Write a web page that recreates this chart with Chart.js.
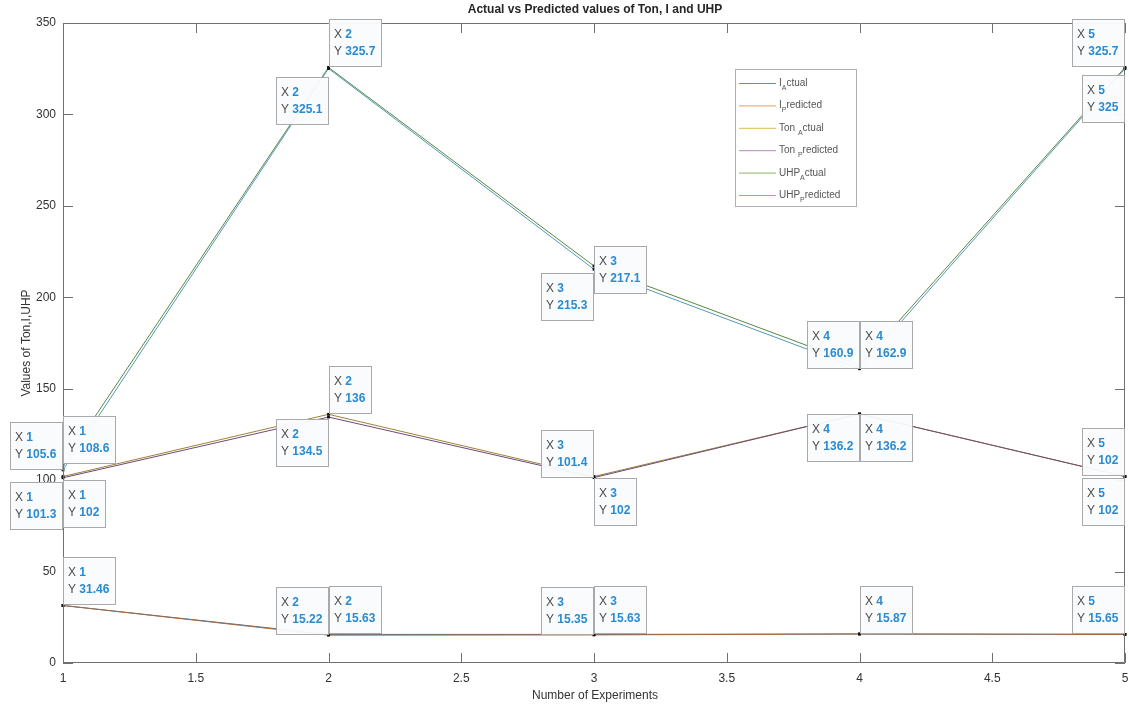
<!DOCTYPE html>
<html>
<head>
<meta charset="utf-8">
<script src="https://cdn.jsdelivr.net/npm/chart.js@4/dist/chart.umd.min.js"></script>
<style>
  html, body { margin: 0; padding: 0; background: #ffffff; }
  #wrap { width: 1129px; height: 709px; position: relative; overflow: hidden; }
</style>
</head>
<body>
<div id="wrap"><canvas id="c" width="1129" height="709"></canvas></div>
<script>
// Experiment numbers
const experiments = [1, 2, 3, 4, 5];

// Current I
const iActual    = [31.46, 15.63, 15.63, 15.87, 15.65];
const iPredicted = [31.46, 15.22, 15.35, 15.87, 15.65];

// Pulse on-time Ton
const tonActual    = [102, 136, 102, 136.2, 102];
const tonPredicted = [101.3, 134.5, 101.4, 136.2, 102];

// UHP
const uhpActual    = [108.6, 325.7, 217.1, 162.9, 325.7];
const uhpPredicted = [105.6, 325.1, 215.3, 160.9, 325];

// Axis ticks
const xTicks = [1, 1.5, 2, 2.5, 3, 3.5, 4, 4.5, 5];
const yTicks = [0, 50, 100, 150, 200, 250, 300, 350];

const titleText = 'Actual vs Predicted values of Ton, I and UHP';
const xTitle = 'Number of Experiments';
const yTitle = 'Values of Ton,I,UHP';

const seriesDefs = [
  { key: 'iA', data: iActual,      color: '#41729a', legendColor: '#5b93bd', label: ['I', 'A', 'ctual'] },
  { key: 'iP', data: iPredicted,   color: '#a8683a', legendColor: '#d9a35e', label: ['I', 'P', 'redicted'] },
  { key: 'tA', data: tonActual,    color: '#9c8236', legendColor: '#dcb84f', label: ['Ton ', 'A', 'ctual'] },
  { key: 'tP', data: tonPredicted, color: '#6e4a72', legendColor: '#b08ab8', label: ['Ton ', 'P', 'redicted'] },
  { key: 'uA', data: uhpActual,    color: '#5a8640', legendColor: '#8fb462', label: ['UHP', 'A', 'ctual'] },
  { key: 'uP', data: uhpPredicted, color: '#4f9ab8', legendColor: '#6bb5d3', label: ['UHP', 'P', 'redicted'] }
];

// Data tip annotations: series, point index, placement of the box around the point, vertical nudge
const tips = [
  ['uP', 0, 'nw', 0], ['uA', 0, 'ne', 0],
  ['uP', 1, 'sw', 8], ['uA', 1, 'ne', 0],
  ['uA', 2, 'ne', 28], ['uP', 2, 'sw', 4],
  ['uP', 3, 'nw', 0], ['uA', 3, 'ne', 4],
  ['uA', 4, 'nw', 0], ['uP', 4, 'sw', 6],
  ['tP', 0, 'sw', 4], ['tA', 0, 'se', 4],
  ['tP', 1, 'sw', 2], ['tA', 1, 'ne', 0],
  ['tP', 2, 'nw', 0], ['tA', 2, 'se', 2],
  ['tP', 3, 'sw', 0], ['tA', 3, 'se', 0],
  ['tA', 4, 'nw', 0], ['tP', 4, 'sw', 2],
  ['iA', 0, 'ne', 0],
  ['iP', 1, 'nw', 0], ['iA', 1, 'ne', 0],
  ['iP', 2, 'nw', 0], ['iA', 2, 'ne', 0],
  ['iA', 3, 'ne', 0],
  ['iA', 4, 'nw', 0]
];

const FONT = '"Liberation Sans", Arial, sans-serif';
const NARROW = '"Liberation Sans Narrow", "Arial Narrow", "Liberation Sans", Arial, sans-serif';

const datasets = seriesDefs.map((s, k) => ({
  label: s.label.join(''),
  data: experiments.map((x, i) => ({ x: x, y: s.data[i] })),
  borderColor: s.color,
  backgroundColor: '#111111',
  borderWidth: 1,
  pointStyle: 'rect',
  pointRadius: 2,
  pointBorderWidth: 0,
  pointBackgroundColor: '#111111',
  tension: 0,
  clip: false,
  order: 6 - k
}));

const decor = {
  id: 'decor',
  afterDraw(chart) {
    const ctx = chart.ctx;
    const a = chart.chartArea;
    const xs = chart.scales.x, ys = chart.scales.y;
    ctx.save();

    // axes box and inward ticks
    ctx.strokeStyle = '#707070';
    ctx.lineWidth = 1;
    ctx.beginPath();
    ctx.moveTo(a.left + 0.5, a.top + 0.5);
    ctx.lineTo(a.right - 0.5, a.top + 0.5);
    ctx.lineTo(a.right - 0.5, a.bottom - 0.5);
    ctx.lineTo(a.left + 0.5, a.bottom - 0.5);
    ctx.closePath();
    ctx.stroke();
    const tl = 10;
    ctx.beginPath();
    xTicks.forEach(v => {
      const px = Math.round(xs.getPixelForValue(v)) + 0.5;
      ctx.moveTo(px, a.bottom); ctx.lineTo(px, a.bottom - tl);
      ctx.moveTo(px, a.top); ctx.lineTo(px, a.top + tl);
    });
    yTicks.forEach(v => {
      const py = Math.round(ys.getPixelForValue(v)) + 0.5;
      ctx.moveTo(a.left, py); ctx.lineTo(a.left + tl, py);
      ctx.moveTo(a.right, py); ctx.lineTo(a.right - tl, py);
    });
    ctx.stroke();

    // titles
    ctx.fillStyle = '#262626';
    ctx.font = 'bold 12px ' + NARROW;
    ctx.textAlign = 'center';
    ctx.textBaseline = 'middle';
    ctx.fillText(titleText, 595, 10);
    ctx.font = '12px ' + NARROW;
    ctx.fillStyle = '#333333';
    ctx.fillText(xTitle, 595, 696);
    ctx.save();
    ctx.translate(27, (a.top + a.bottom) / 2);
    ctx.rotate(-Math.PI / 2);
    ctx.fillText(yTitle, 0, 0);
    ctx.restore();

    // legend
    const lx = 735, ly = 69, lw = 121, lh = 137;
    ctx.fillStyle = '#ffffff';
    ctx.fillRect(lx, ly, lw, lh);
    ctx.strokeStyle = '#b0b0b0';
    ctx.strokeRect(lx + 0.5, ly + 0.5, lw, lh);
    seriesDefs.forEach((s, i) => {
      const y = ly + 14 + i * 22.4;
      ctx.strokeStyle = s.legendColor;
      ctx.beginPath();
      ctx.moveTo(lx + 4, y + 0.5); ctx.lineTo(lx + 41, y + 0.5);
      ctx.stroke();
      ctx.fillStyle = '#555555';
      ctx.textAlign = 'left';
      ctx.textBaseline = 'alphabetic';
      let tx = lx + 44;
      ctx.font = '10px ' + NARROW;
      ctx.fillText(s.label[0], tx, y + 3);
      tx += ctx.measureText(s.label[0]).width;
      ctx.font = '7px ' + NARROW;
      ctx.fillText(s.label[1], tx, y + 7);
      tx += ctx.measureText(s.label[1]).width;
      ctx.font = '10px ' + NARROW;
      ctx.fillText(s.label[2], tx, y + 3);
    });

    // data tips
    const byKey = {};
    seriesDefs.forEach(s => { byKey[s.key] = s; });
    tips.forEach(([key, idx, place, dy]) => {
      const s = byKey[key];
      const xv = experiments[idx], yv = s.data[idx];
      const px = xs.getPixelForValue(xv);
      const py = ys.getPixelForValue(yv);
      const xl = 'X ', yl = 'Y ';
      const xvText = String(xv), yvText = String(yv);
      ctx.font = '12px ' + FONT;
      const wx = ctx.measureText(xl).width;
      const wy = ctx.measureText(yl).width;
      ctx.font = 'bold 12px ' + FONT;
      const w1 = wx + ctx.measureText(xvText).width;
      const w2 = wy + ctx.measureText(yvText).width;
      const w = Math.round(Math.max(w1, w2) + 12);
      const h = 48;
      let bx, by;
      if (place === 'ne') { bx = px; by = py - h; }
      else if (place === 'nw') { bx = px - w; by = py - h; }
      else if (place === 'se') { bx = px; by = py; }
      else { bx = px - w; by = py; }
      by += dy;
      bx = Math.round(bx); by = Math.round(by);
      ctx.fillStyle = 'rgba(250,251,253,0.96)';
      ctx.fillRect(bx, by, w, h);
      ctx.strokeStyle = '#a9a9a9';
      ctx.lineWidth = 1;
      ctx.strokeRect(bx + 0.5, by + 0.5, w - 1, h - 1);
      ctx.textAlign = 'left';
      ctx.textBaseline = 'middle';
      ctx.font = '12px ' + FONT;
      ctx.fillStyle = '#4d4d4d';
      ctx.fillText(xl, bx + 5, by + 16);
      ctx.fillText(yl, bx + 5, by + 33);
      ctx.font = 'bold 12px ' + FONT;
      ctx.fillStyle = '#2a8bd0';
      ctx.fillText(xvText, bx + 5 + wx, by + 16);
      ctx.fillText(yvText, bx + 5 + wy, by + 33);
    });
    ctx.restore();
  }
};

new Chart(document.getElementById('c'), {
  type: 'line',
  data: { datasets: datasets },
  options: {
    responsive: false,
    devicePixelRatio: 1,
    animation: false,
    layout: { padding: { top: 23, right: -3, left: 0, bottom: 0 } },
    plugins: { legend: { display: false }, tooltip: { enabled: false }, title: { display: false } },
    scales: {
      x: {
        type: 'linear', min: 1, max: 5,
        afterFit(scale) { scale.height = 46; scale.paddingRight = 0; scale.paddingLeft = 0; },
        afterBuildTicks(scale) { scale.ticks = xTicks.map(v => ({ value: v })); },
        grid: { display: false, drawTicks: false },
        border: { display: false },
        ticks: { padding: 8, color: '#333333', font: { family: NARROW, size: 12 }, maxRotation: 0,
                 callback: v => String(v) }
      },
      y: {
        type: 'linear', min: 0, max: 350,
        afterFit(scale) { scale.width = 63; scale.paddingTop = 0; scale.paddingBottom = 0; },
        afterBuildTicks(scale) { scale.ticks = yTicks.map(v => ({ value: v })); },
        grid: { display: false, drawTicks: false },
        border: { display: false },
        ticks: { padding: 7, color: '#333333', font: { family: NARROW, size: 12 },
                 callback: v => String(v) }
      }
    }
  },
  plugins: [decor]
});
</script>
</body>
</html>
